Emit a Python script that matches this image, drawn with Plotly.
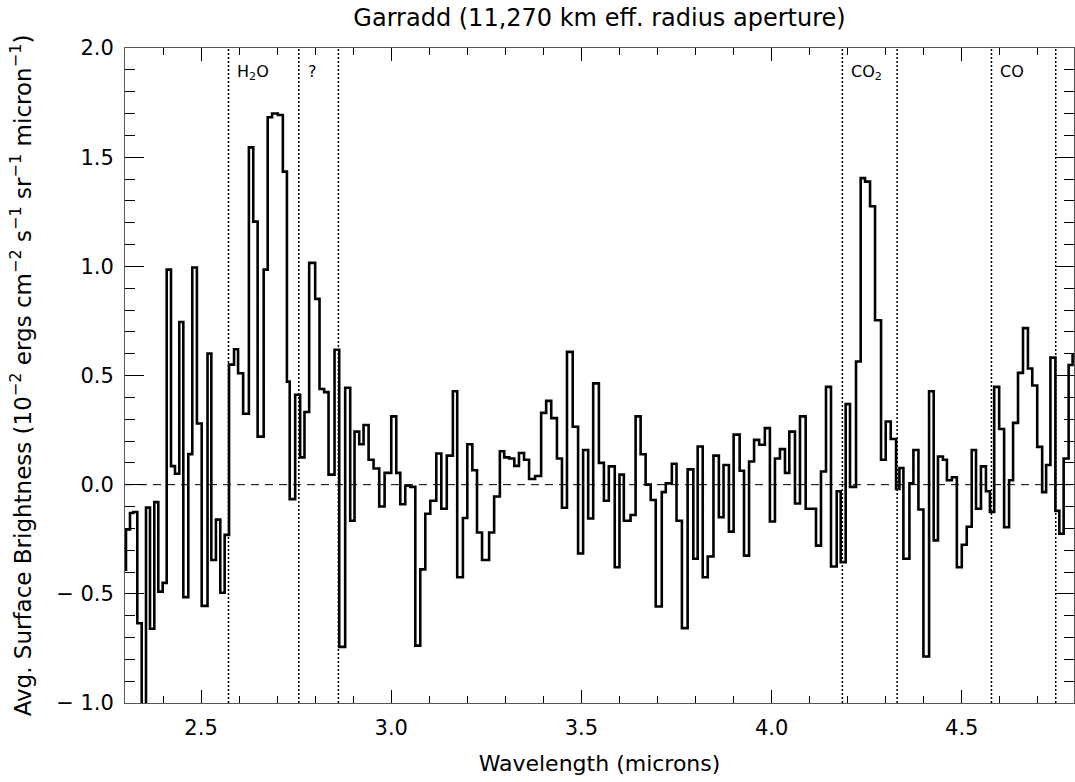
import plotly.graph_objects as go

# Bin left edges (microns); the final entry is the right edge of the last bin
wave_edges = [
    2.290, 2.3026, 2.3131, 2.3218, 2.3323, 2.3439, 2.3552, 2.3657, 2.3770, 2.3875,
    2.3991, 2.4096, 2.4209, 2.4314, 2.4427, 2.4533, 2.4664, 2.4769, 2.4890, 2.5016,
    2.5170, 2.5270, 2.5390, 2.5505, 2.5620, 2.5735, 2.5867, 2.5973, 2.6106, 2.6257,
    2.6372, 2.6487, 2.6646, 2.6752, 2.6867, 2.7018, 2.7150, 2.7257, 2.7330, 2.7474,
    2.7605, 2.7719, 2.7842, 2.8000, 2.8114, 2.8237, 2.8351, 2.8509, 2.8632, 2.8789,
    2.8921, 2.9035, 2.9158, 2.9272, 2.9404, 2.9535, 2.9684, 2.9825, 3.0000, 3.0132,
    3.0237, 3.0368, 3.0500, 3.0632, 3.0763, 3.0895, 3.1026, 3.1184, 3.1316, 3.1460,
    3.1620, 3.1734, 3.1884, 3.1999, 3.2132, 3.2255, 3.2387, 3.2573, 3.2705, 3.2855,
    3.2970, 3.3102, 3.3235, 3.3358, 3.3491, 3.3623, 3.3782, 3.3941, 3.4073, 3.4206,
    3.4356, 3.4488, 3.4620, 3.4771, 3.4912, 3.5044, 3.5177, 3.5309, 3.5459, 3.5591,
    3.5720, 3.5876, 3.6000, 3.6115, 3.6291, 3.6424, 3.6556, 3.6688, 3.6821, 3.6953,
    3.7112, 3.7218, 3.7377, 3.7500, 3.7642, 3.7792, 3.7942, 3.8056, 3.8189, 3.8321,
    3.8471, 3.8613, 3.8736, 3.8877, 3.9001, 3.9160, 3.9274, 3.9407, 3.9539, 3.9672,
    3.9822, 3.9955, 4.0088, 4.0219, 4.0351, 4.0465, 4.0614, 4.0746, 4.0895, 4.1026,
    4.1167, 4.1298, 4.1430, 4.1561, 4.1711, 4.1816, 4.1947, 4.2061, 4.2219, 4.2342,
    4.2456, 4.2588, 4.2719, 4.2877, 4.3000, 4.3132, 4.3272, 4.3360, 4.3465, 4.3623,
    4.3728, 4.3860, 4.3991, 4.4140, 4.4261, 4.4374, 4.4504, 4.4609, 4.4739, 4.4870,
    4.5000, 4.5130, 4.5261, 4.5374, 4.5504, 4.5635, 4.5739, 4.5852, 4.5983, 4.6113,
    4.6243, 4.6348, 4.6478, 4.6609, 4.6739, 4.6852, 4.6983, 4.7113, 4.7217, 4.7330,
    4.7461, 4.7565, 4.7678, 4.7809, 4.7913, 4.8000,
]

# Avg. surface brightness per bin (10^-2 ergs cm^-2 s^-1 sr^-1 micron^-1)
brightness = [
    -0.39, -0.205, -0.13, -0.125, -0.635, -1.2, -0.105, -0.66, -0.08, -0.49,
    -0.45, 0.985, 0.085, 0.05, 0.745, -0.515, 0.14, 0.995, 0.28, -0.555,
    0.60, -0.345, -0.16, -0.495, -0.23, 0.55, 0.62, 0.51, 0.325, 1.545,
    1.205, 0.22, 0.985, 1.683, 1.70, 1.693, 1.434, 0.472, -0.066, 0.412,
    0.125, 0.333, 1.016, 0.851, 0.438, 0.424, 0.046, 0.618, -0.743, 0.444,
    -0.165, 0.243, 0.185, 0.273, 0.114, 0.074, -0.10, 0.054, 0.313, 0.054,
    -0.09, -0.005, -0.01, -0.737, -0.388, -0.133, -0.074, 0.143, -0.11, 0.133,
    0.428, -0.424, -0.153, 0.185, 0.066, -0.219, -0.345, -0.219, -0.054, 0.153,
    0.125, 0.12, 0.086, 0.145, 0.114, 0.026, 0.04, 0.329, 0.384, 0.305,
    0.12, -0.106, 0.608, 0.265, -0.315, 0.159, -0.155, 0.464, 0.10, -0.074,
    0.084, -0.378, 0.046, -0.165, -0.139, 0.313, 0.139, 0.0, -0.07, -0.558,
    -0.034, 0.006, 0.096, -0.165, -0.657, 0.07, -0.339, 0.175, -0.424, -0.329,
    0.133, -0.149, 0.09, -0.215, 0.229, 0.064, -0.325, 0.106, 0.205, 0.183,
    0.259, -0.169, 0.12, 0.163, 0.054, 0.243, -0.086, 0.313, -0.11, -0.11,
    -0.279, 0.06, 0.448, -0.375, -0.03, -0.355, 0.369, -0.01, 0.564, 1.404,
    1.388, 1.275, 0.753, 0.114, 0.289, 0.209, -0.02, 0.076, -0.339, 0.006,
    0.159, -0.114, -0.787, 0.428, -0.255, 0.129, 0.114, 0.02, 0.034, -0.378,
    -0.275, -0.193, 0.159, -0.11, 0.084, -0.03, -0.125, 0.448, 0.255, -0.195,
    0.02, 0.283, 0.512, 0.717, 0.532, 0.454, 0.173, -0.034, 0.09, 0.582,
    -0.12, -0.225, 0.12, 0.548, 0.592,
]

# Band boundaries (dotted lines) and labels
band_lines = [2.572, 2.757, 2.861, 4.186, 4.330, 4.578, 4.747]
band_labels = ["H<sub>2</sub>O", "?", "CO<sub>2</sub>", "CO"]
band_label_x = [2.572, 2.757, 4.186, 4.578]

x_ticks = [2.5, 3.0, 3.5, 4.0, 4.5]
y_ticks = [-1.0, -0.5, 0.0, 0.5, 1.0, 1.5, 2.0]

FONT = "DejaVu Sans"

xs = list(wave_edges)
ys = list(brightness) + [brightness[-1]]

fig = go.Figure()
fig.add_trace(go.Scatter(
    x=xs, y=ys, mode="lines", line_shape="hv",
    line=dict(color="black", width=2.6), showlegend=False, hoverinfo="skip",
))

fig.add_hline(y=0, line=dict(color="black", width=1, dash="8px,6px"))
for xv in band_lines:
    fig.add_vline(x=xv, line=dict(color="black", width=1.5, dash="2px,2px"))

for lab, xv in zip(band_labels, band_label_x):
    fig.add_annotation(x=xv, y=1.0, xref="x", yref="paper", text=lab,
                       showarrow=False, xanchor="left", yanchor="top",
                       xshift=7, yshift=-12,
                       font=dict(family=FONT, size=16, color="black"))

axis_common = dict(
    showgrid=False, zeroline=False, showline=True, linecolor="#555", linewidth=1,
    mirror="allticks", ticks="inside", tickcolor="black", tickwidth=1,
    tickfont=dict(family=FONT, size=21, color="black"),
)

fig.update_layout(
    width=1075, height=782,
    margin=dict(l=125, r=1, t=48, b=79),
    paper_bgcolor="white", plot_bgcolor="white",
    title=dict(text="Garradd (11,270 km eff. radius aperture)",
               x=0.5, xref="paper", xanchor="center",
               y=1 - 18 / 782, yref="container", yanchor="middle",
               font=dict(family=FONT, size=24, color="black")),
    xaxis=dict(range=[2.3, 4.795], tickvals=x_ticks, ticktext=[f"{v:.1f}" for v in x_ticks],
               ticklen=13, ticklabelstandoff=6,
               minor=dict(dtick=0.1, tick0=2.3, ticklen=7, ticks="inside",
                          tickcolor="black", tickwidth=1, showgrid=False),
               title=dict(text="Wavelength (microns)", standoff=16,
                          font=dict(family=FONT, size=22, color="black")),
               **axis_common),
    yaxis=dict(range=[-1.0, 2.0], tickvals=y_ticks, ticktext=[f"{v:.1f}".replace("-", "\u2212 ") for v in y_ticks],
               ticklen=19, ticklabelstandoff=6,
               minor=dict(dtick=0.1, tick0=-1.0, ticklen=10, ticks="inside",
                          tickcolor="black", tickwidth=1, showgrid=False),
               title=dict(text="Avg. Surface Brightness (10<sup>\u22122</sup> ergs cm<sup>\u22122</sup> s<sup>\u22121</sup> sr<sup>\u22121</sup> micron<sup>\u22121</sup>)",
                          standoff=18,
                          font=dict(family=FONT, size=23, color="black")),
               **axis_common),
)

fig.write_html("out.html")
